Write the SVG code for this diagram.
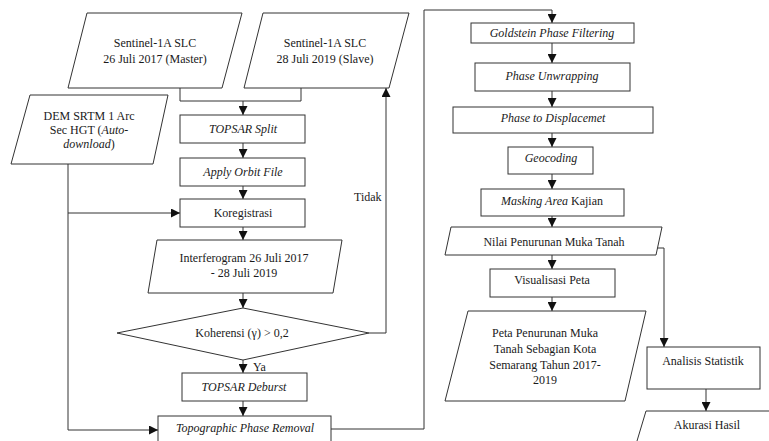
<svg xmlns="http://www.w3.org/2000/svg" width="769" height="441" viewBox="0 0 769 441">
<style>
.s{fill:#fff;stroke:#333;stroke-width:1}
.c{fill:none;stroke:#333;stroke-width:1}
text{font-family:"Liberation Serif","Times New Roman",serif;font-size:12px;fill:#1a1a1a}
.m{text-anchor:middle}
.i{font-style:italic}
</style>
<defs>
<marker id="a" markerUnits="userSpaceOnUse" markerWidth="9" markerHeight="9" viewBox="0 0 10 10" refX="10" refY="5" orient="auto">
<path d="M0,0 L10,5 L0,10 z" fill="#111"/>
</marker>
</defs>
<rect width="769" height="441" fill="#fff"/>
<g id="connectors">
<path class="c" d="M180,88 V101 H301 V88"/>
<path class="c" d="M243,101 V115" marker-end="url(#a)"/>
<path class="c" d="M243,143 V158" marker-end="url(#a)"/>
<path class="c" d="M243,186 V199" marker-end="url(#a)"/>
<path class="c" d="M243,227 V240" marker-end="url(#a)"/>
<path class="c" d="M243,293 V308" marker-end="url(#a)"/>
<path class="c" d="M243,360 V373" marker-end="url(#a)"/>
<path class="c" d="M243,401 V416" marker-end="url(#a)"/>
<path class="c" d="M369,333 H386 V88" marker-end="url(#a)"/>
<path class="c" d="M68,164 V430 H158" marker-end="url(#a)"/>
<path class="c" d="M68,213 H180" marker-end="url(#a)"/>
<path class="c" d="M331,429 H424 V10 H552 V23" marker-end="url(#a)"/>
<path class="c" d="M552,43 V63" marker-end="url(#a)"/>
<path class="c" d="M552,91 V107" marker-end="url(#a)"/>
<path class="c" d="M552,133 V147" marker-end="url(#a)"/>
<path class="c" d="M552,174 V189" marker-end="url(#a)"/>
<path class="c" d="M552,216 V227" marker-end="url(#a)"/>
<path class="c" d="M552,255 V269" marker-end="url(#a)"/>
<path class="c" d="M552,297 V311" marker-end="url(#a)"/>
<path class="c" d="M657,248 H664 V347" marker-end="url(#a)"/>
<path class="c" d="M706,389 V411" marker-end="url(#a)"/>
</g>
<text x="354" y="201">Tidak</text>
<text x="253" y="371">Ya</text>
<g id="master">
<polygon class="s" points="87,13 242,13 222,88 68,88"/>
<text class="m" x="155" y="47">Sentinel-1A SLC</text>
<text class="m" x="155" y="63">26 Juli 2017 (Master)</text>
</g>
<g id="slave">
<polygon class="s" points="263,13 409,13 389,88 244,88"/>
<text class="m" x="325" y="47">Sentinel-1A SLC</text>
<text class="m" x="325" y="63">28 Juli 2019 (Slave)</text>
</g>
<g id="dem">
<polygon class="s" points="30,95 168,95 153,164 11,164"/>
<text class="m" x="89" y="120">DEM SRTM 1 Arc</text>
<text class="m" x="89" y="134">Sec HGT (<tspan class="i">Auto-</tspan></text>
<text class="m" x="89" y="148"><tspan class="i">download</tspan>)</text>
</g>
<g id="split">
<rect class="s" x="180" y="115" width="125" height="28"/>
<text class="m i" x="243" y="133">TOPSAR Split</text>
</g>
<g id="orbit">
<rect class="s" x="180" y="158" width="125" height="28"/>
<text class="m i" x="243" y="176">Apply Orbit File</text>
</g>
<g id="koregistrasi">
<rect class="s" x="180" y="199" width="125" height="28"/>
<text class="m" x="243" y="217">Koregistrasi</text>
</g>
<g id="interferogram">
<polygon class="s" points="157,240 342,240 333,293 148,293"/>
<text class="m" x="244" y="262">Interferogram 26 Juli 2017</text>
<text class="m" x="244" y="277">- 28 Juli 2019</text>
</g>
<g id="koherensi">
<polygon class="s" points="117,333 243,308 369,333 243,360"/>
<text class="m" x="242" y="337">Koherensi (γ) &gt; 0,2</text>
</g>
<g id="deburst">
<rect class="s" x="182" y="373" width="125" height="28"/>
<text class="m i" x="244" y="391">TOPSAR Deburst</text>
</g>
<g id="topographic">
<rect class="s" x="158" y="416" width="173" height="30"/>
<text class="m i" x="245" y="432">Topographic Phase Removal</text>
</g>
<g id="goldstein">
<rect class="s" x="471" y="23" width="163" height="20"/>
<text class="m i" x="552" y="37">Goldstein Phase Filtering</text>
</g>
<g id="unwrapping">
<rect class="s" x="475" y="63" width="155" height="28"/>
<text class="m i" x="552" y="80">Phase Unwrapping</text>
</g>
<g id="displacement">
<rect class="s" x="453" y="107" width="200" height="26"/>
<text class="m i" x="553" y="122">Phase to Displacemet</text>
</g>
<g id="geocoding">
<rect class="s" x="508" y="147" width="85" height="27"/>
<text class="m i" x="551" y="162">Geocoding</text>
</g>
<g id="masking">
<rect class="s" x="481" y="189" width="143" height="27"/>
<text class="m" x="552" y="205"><tspan class="i">Masking Area</tspan> Kajian</text>
</g>
<g id="nilai">
<polygon class="s" points="451,227 662,227 656,255 445,255"/>
<text class="m" x="554" y="246">Nilai Penurunan Muka Tanah</text>
</g>
<g id="visualisasi">
<rect class="s" x="490" y="269" width="125" height="28"/>
<text class="m" x="552" y="284">Visualisasi Peta</text>
</g>
<g id="peta">
<polygon class="s" points="468,311 646,311 625,401 445,401"/>
<text class="m" x="545" y="337">Peta Penurunan Muka</text>
<text class="m" x="545" y="353">Tanah Sebagian Kota</text>
<text class="m" x="545" y="369">Semarang Tahun 2017-</text>
<text class="m" x="545" y="384">2019</text>
</g>
<g id="analisis">
<rect class="s" x="647" y="347" width="113" height="42"/>
<text class="m" x="703" y="365">Analisis Statistik</text>
</g>
<g id="akurasi">
<polygon class="s" points="646,411 800,411 770,511 616,511"/>
<text class="m" x="707" y="429">Akurasi Hasil</text>
</g>
</svg>
